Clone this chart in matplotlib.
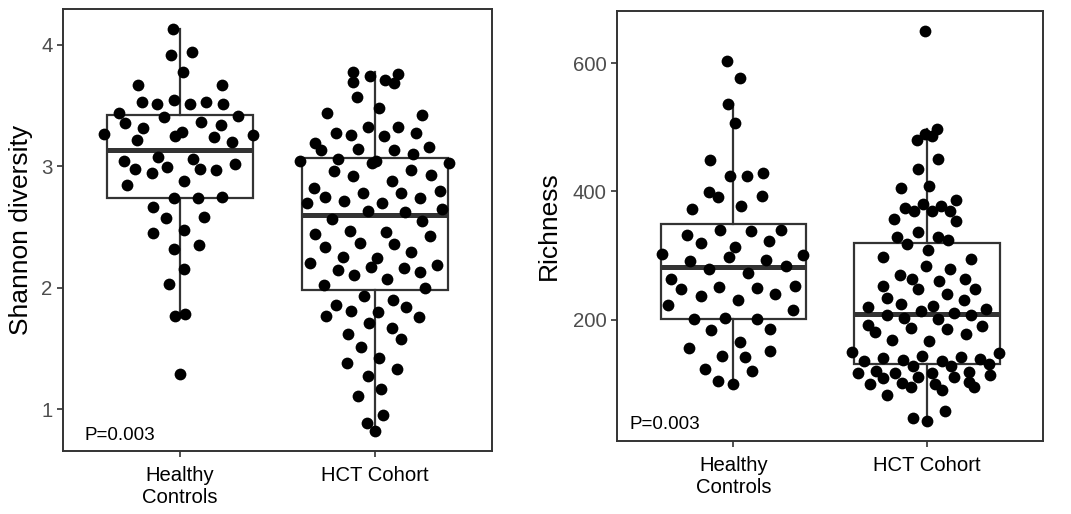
import numpy as np
import matplotlib
matplotlib.use('Agg')
import matplotlib.pyplot as plt

plt.rcParams['font.family'] = ['Liberation Sans', 'DejaVu Sans']

groups = ['Healthy\nControls', 'HCT Cohort']

# Shannon diversity
shannon_healthy = [4.126, 3.912, 3.940, 3.779, 3.666, 3.666, 3.549, 3.530, 3.511, 3.511,
                   3.532, 3.511, 3.442, 3.415, 3.401, 3.355, 3.311, 3.366, 3.338, 3.262,
                   3.256, 3.278, 3.248, 3.237, 3.218, 3.199, 3.073, 3.040, 2.994, 3.059,
                   2.975, 2.975, 2.969, 3.018, 2.944, 2.879, 2.849, 2.739, 2.739, 2.745,
                   2.663, 2.586, 2.578, 2.477, 2.452, 2.354, 2.316, 2.154, 2.028, 1.788,
                   1.771, 1.288]
shannon_hct = [3.776, 3.694, 3.740, 3.707, 3.686, 3.757, 3.571, 3.480, 3.439, 3.420,
               3.325, 3.325, 3.275, 3.259, 3.248, 3.275, 3.188, 3.130, 3.139, 3.136,
               3.155, 3.100, 3.040, 3.059, 3.024, 3.043, 3.027, 2.964, 2.925, 2.966,
               2.923, 2.879, 2.821, 2.748, 2.783, 2.783, 2.742, 2.797, 2.701, 2.712,
               2.698, 2.649, 2.633, 2.627, 2.567, 2.551, 2.469, 2.455, 2.439, 2.422,
               2.370, 2.359, 2.337, 2.291, 2.206, 2.253, 2.247, 2.149, 2.168, 2.165,
               2.187, 2.105, 2.130, 2.072, 2.026, 2.001, 1.935, 1.897, 1.862, 1.842,
               1.810, 1.801, 1.771, 1.760, 1.714, 1.665, 1.580, 1.618, 1.509, 1.424,
               1.383, 1.334, 1.274, 1.170, 1.107, 0.957, 0.891, 0.822]

# Richness
rich_healthy = [603.6, 576.1, 536.2, 506.6, 449.5, 424.6, 424.6, 428.3, 398.7, 391.4,
                393.0, 377.4, 373.3, 340.1, 338.5, 340.6, 331.3, 319.3, 321.9, 312.6,
                302.7, 298.1, 301.2, 290.8, 292.9, 284.0, 279.4, 273.2, 262.8, 248.3,
                251.4, 249.8, 252.9, 236.3, 240.0, 230.6, 223.3, 215.6, 200.5, 202.1,
                201.0, 183.4, 185.5, 165.8, 155.4, 151.8, 143.9, 141.4, 122.7, 119.6,
                105.1, 99.4]
rich_hct = [650.8, 497.3, 489.0, 485.9, 480.2, 450.1, 435.0, 409.1, 406.0, 387.3,
            374.8, 369.7, 380.5, 369.7, 377.9, 369.7, 357.7, 354.1, 337.0, 328.7,
            329.2, 325.0, 317.8, 308.9, 298.1, 294.4, 283.0, 278.3, 269.5, 262.8,
            260.2, 262.8, 252.9, 247.2, 248.3, 240.5, 233.2, 230.6, 224.4, 221.8,
            219.2, 216.6, 213.5, 210.9, 207.8, 202.1, 201.0, 206.7, 191.7, 190.2,
            186.5, 181.3, 185.5, 177.7, 168.4, 167.3, 149.2, 148.1, 135.2, 140.9,
            137.2, 143.9, 136.2, 141.4, 138.8, 131.0, 127.9, 127.4, 117.0, 120.1,
            117.5, 117.5, 118.5, 113.9, 109.7, 110.8, 110.2, 100.4, 101.9, 103.0,
            99.4, 95.7, 90.5, 95.7, 82.2, 57.9, 46.9, 41.3]

p_text = 'P=0.003'


def vdc(n, base=2):
    out = []
    for i in range(1, n + 1):
        v, denom, k = 0.0, 1.0, i
        while k:
            k, r = divmod(k, base)
            denom *= base
            v += r / denom
        out.append(v)
    return np.array(out)


def quasirandom(y, width=0.4):
    # quasirandom spread like ggbeeswarm::geom_quasirandom
    y = np.asarray(y, dtype=float)
    n = len(y)
    q75, q25 = np.percentile(y, [75, 25])
    bw = 0.9 * min(y.std(ddof=1), (q75 - q25) / 1.34) * n ** -0.2
    dens = np.exp(-0.5 * ((y[:, None] - y[None, :]) / bw) ** 2).sum(1)
    dens = dens / dens.max()
    ranks = np.argsort(np.argsort(y, kind='stable'))
    return (vdc(n)[ranks] - 0.5) * 2 * width * dens


def panel(ax, data, ylabel, yticks, p_xy, label_x):
    ax.boxplot(data, positions=[1, 2], widths=0.75, whis=1.5, showfliers=False,
               patch_artist=True,
               boxprops=dict(facecolor='white', edgecolor='#333333', linewidth=1.6),
               whiskerprops=dict(color='#333333', linewidth=1.6),
               capprops=dict(linewidth=0),
               medianprops=dict(color='#333333', linewidth=3.6),
               zorder=2)
    for i, vals in enumerate(data):
        xs = (i + 1) + quasirandom(vals)
        ax.scatter(xs, vals, s=72, color='black', linewidths=0, zorder=3)
    allv = np.concatenate([np.asarray(d) for d in data])
    lo, hi = allv.min(), allv.max()
    pad = 0.05 * (hi - lo)
    ax.set_ylim(lo - pad, hi + pad)
    ax.set_xlim(0.4, 2.6)
    ax.set_xticks([1, 2])
    ax.set_xticklabels(groups, fontsize=14.6, color='black', linespacing=1.2)
    ax.set_yticks(yticks)
    ax.set_yticklabels([str(t) for t in yticks], fontsize=14.7, color='#4D4D4D')
    ax.tick_params(length=4, width=1.2, color='#333333')
    ax.tick_params(axis='x', pad=6.5)
    ax.tick_params(axis='y', pad=3.5)
    for s in ax.spines.values():
        s.set_color('#333333')
        s.set_linewidth(1.4)
    ax.set_ylabel(ylabel, fontsize=19)
    ax.yaxis.set_label_coords(label_x, 0.5)
    ax.text(p_xy[0], p_xy[1], p_text, transform=ax.transAxes, fontsize=13.6,
            va='baseline', ha='left')


fig = plt.figure(figsize=(10.71, 5.14), dpi=100)
ax1 = fig.add_axes([0.0588, 0.1226, 0.4003, 0.8593])
ax2 = fig.add_axes([0.5761, 0.1420, 0.3980, 0.8366])

panel(ax1, [shannon_healthy, shannon_hct], 'Shannon diversity', [1, 2, 3, 4],
      (0.051, 0.025), -0.070)
panel(ax2, [rich_healthy, rich_hct], 'Richness', [200, 400, 600],
      (0.030, 0.027), -0.131)

fig.savefig('out.png', dpi=100)
